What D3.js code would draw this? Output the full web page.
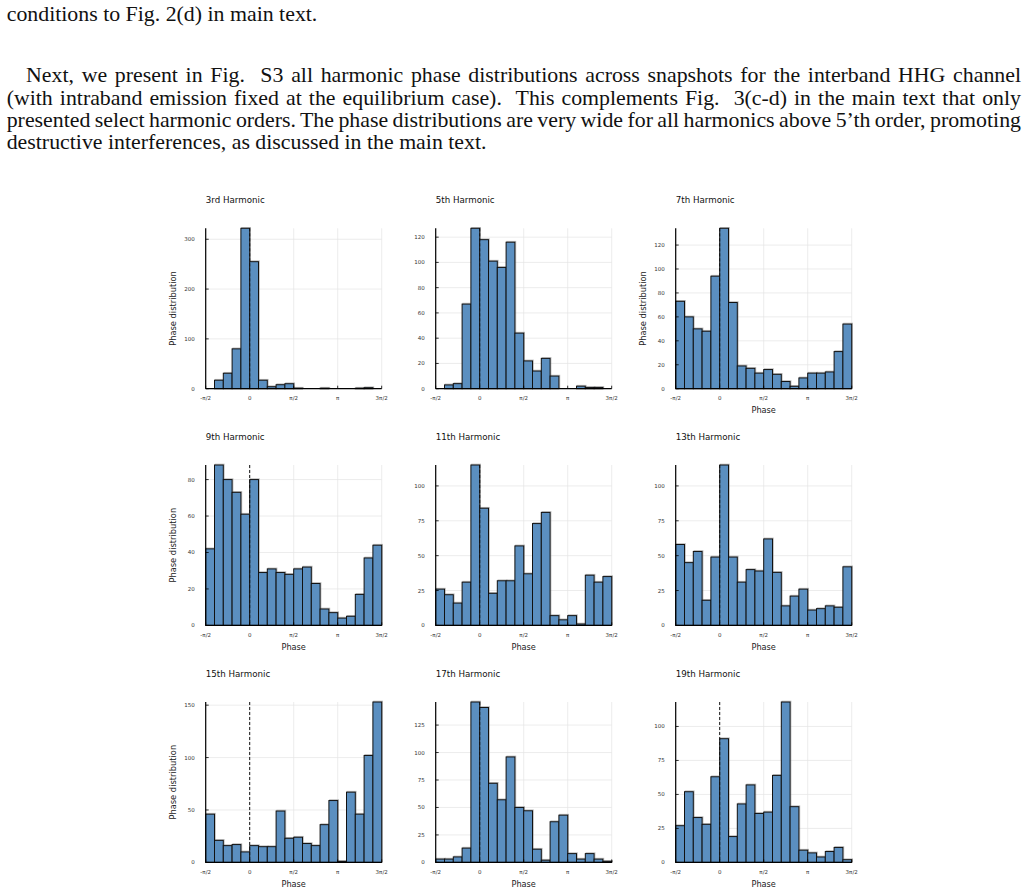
<!DOCTYPE html>
<html>
<head>
<meta charset="utf-8">
<script src="https://cdn.jsdelivr.net/npm/d3@7/dist/d3.min.js"></script>
<style>
  body { margin: 0; background: #fff; }
  svg { display: block; }
</style>
</head>
<body>
<div id="page"></div>
<script>
// Paragraph text above the figure
const paragraphLines = [
  "conditions to Fig. 2(d) in main text.",
  "Next, we present in Fig.  S3 all harmonic phase distributions across snapshots for the interband HHG channel",
  "(with intraband emission fixed at the equilibrium case).  This complements Fig.  3(c-d) in the main text that only",
  "presented select harmonic orders. The phase distributions are very wide for all harmonics above 5\u2019th order, promoting",
  "destructive interferences, as discussed in the main text.",
];

// Histogram counts, 20 bins of width π/10 from -π/2 to 3π/2
const titles = [
  "3rd Harmonic", "5th Harmonic", "7th Harmonic",
  "9th Harmonic", "11th Harmonic", "13th Harmonic",
  "15th Harmonic", "17th Harmonic", "19th Harmonic",
];
const counts3 = [0, 17, 31, 80, 322, 255, 17, 4, 8, 10, 1, 0, 0, 1, 0, 0, 0, 1, 2, 0];
const counts5 = [0, 3, 4, 67, 127, 118, 101, 96, 116, 44, 22, 14, 24, 10, 0, 0, 2, 1, 1, 0];
const counts7 = [73, 60, 50, 48, 94, 134, 72, 19, 17, 13, 16, 12, 6, 2, 9, 13, 13, 14, 31, 54];
const counts9 = [42, 88, 80, 73, 61, 80, 29, 31, 29, 28, 31, 32, 23, 9, 7, 4, 5, 17, 37, 44];
const counts11 = [26, 22, 16, 31, 115, 84, 23, 32, 32, 57, 37, 73, 81, 7, 4, 7, 1, 36, 31, 35];
const counts13 = [58, 45, 53, 18, 49, 115, 49, 31, 40, 39, 62, 38, 14, 21, 26, 11, 12, 14, 13, 42];
const counts15 = [46, 21, 16, 17, 10, 16, 15, 15, 49, 23, 24, 18, 16, 36, 59, 1, 67, 46, 102, 153];
const counts17 = [3, 3, 5, 13, 146, 141, 72, 57, 96, 50, 47, 12, 2, 37, 43, 8, 3, 8, 3, 1];
const counts19 = [27, 52, 33, 28, 63, 91, 19, 43, 57, 36, 37, 64, 118, 41, 9, 7, 4, 8, 11, 2];

const yTicks3 = [0, 100, 200, 300];
const yTicks5 = [0, 20, 40, 60, 80, 100, 120];
const yTicks7 = [0, 20, 40, 60, 80, 100, 120];
const yTicks9 = [0, 20, 40, 60, 80];
const yTicks11 = [0, 25, 50, 75, 100];
const yTicks13 = [0, 25, 50, 75, 100];
const yTicks15 = [0, 50, 100, 150];
const yTicks17 = [0, 25, 50, 75, 100, 125];
const yTicks19 = [0, 25, 50, 75, 100];

const phaseTicks = [-Math.PI / 2, 0, Math.PI / 2, Math.PI, 3 * Math.PI / 2];
const phaseTickLabels = ["-\u03c0/2", "0", "\u03c0/2", "\u03c0", "3\u03c0/2"];

const allCounts = [counts3, counts5, counts7, counts9, counts11, counts13, counts15, counts17, counts19];
const allYTicks = [yTicks3, yTicks5, yTicks7, yTicks9, yTicks11, yTicks13, yTicks15, yTicks17, yTicks19];
const showYLabel = [true, false, true, true, false, false, true, false, false];
const showXLabel = [false, false, true, true, true, true, true, true, true];

const width = 1027;
const height = 894;
const sans = "'DejaVu Sans', sans-serif";
const serif = "'Liberation Serif', 'Times New Roman', serif";
const barColor = "#5b8fc0";

const svg = d3
  .select("#page")
  .append("svg")
  .attr("width", width)
  .attr("height", height)
  .style("background", "#fff");

// ---- paragraph ----
const textG = svg.append("g");
const lineBase = [20.7, 82.3, 104.5, 126.7, 149];
const lineLeft = [6.7, 26, 6.7, 6.7, 6.7];
const rightEdge = 1021;
const justified = [false, true, true, true, false];

// size the font so the last line matches its width in the page
const probe = textG.append("text").attr("font-family", serif).attr("font-size", 20).text(paragraphLines[4]);
const fontSize = (20 * 480) / probe.node().getComputedTextLength();
probe.remove();

paragraphLines.forEach((line, i) => {
  const t = textG
    .append("text")
    .attr("x", lineLeft[i])
    .attr("y", lineBase[i])
    .attr("font-family", serif)
    .attr("font-size", fontSize)
    .attr("fill", "#111")
    .style("white-space", "pre")
    .text(line);
  if (justified[i]) {
    const natural = t.node().getComputedTextLength();
    const spaces = (line.match(/ /g) || []).length;
    t.style("word-spacing", (rightEdge - lineLeft[i] - natural) / spaces + "px");
  }
});

// ---- histogram grid ----
const colX = [205.7, 435.7, 675.7];
const rowTop = [228.3, 465, 702];
const plotW = 176;
const plotH = 160.4;
const binWidth = Math.PI / 10;

allCounts.forEach((counts, p) => {
  const x0 = colX[p % 3];
  const y0 = rowTop[Math.floor(p / 3)];
  const g = svg.append("g").attr("transform", `translate(${x0},${y0})`);

  const x = d3.scaleLinear().domain([-Math.PI / 2, 3 * Math.PI / 2]).range([0, plotW]);
  const y = d3.scaleLinear().domain([0, d3.max(counts)]).range([plotH, 0]);

  const bins = counts.map((c, i) => ({
    x0: -Math.PI / 2 + i * binWidth,
    x1: -Math.PI / 2 + (i + 1) * binWidth,
    count: c,
  }));

  // grid
  g.append("g")
    .selectAll("line")
    .data(phaseTicks)
    .join("line")
    .attr("x1", (d) => x(d))
    .attr("x2", (d) => x(d))
    .attr("y1", 0)
    .attr("y2", plotH)
    .attr("stroke", "#e4e4e4")
    .attr("stroke-width", 0.7);
  g.append("g")
    .selectAll("line")
    .data(allYTicks[p])
    .join("line")
    .attr("x1", 0)
    .attr("x2", plotW)
    .attr("y1", (d) => y(d))
    .attr("y2", (d) => y(d))
    .attr("stroke", "#e4e4e4")
    .attr("stroke-width", 0.7);

  const shown = bins.filter((d) => d.count > 0);

  // faint shadow edge seen around the bars
  g.append("g")
    .selectAll("rect")
    .data(shown)
    .join("rect")
    .attr("x", (d) => x(d.x0) + 0.8)
    .attr("y", (d) => y(d.count) - 0.8)
    .attr("width", (d) => x(d.x1) - x(d.x0))
    .attr("height", (d) => plotH - y(d.count))
    .attr("fill", "none")
    .attr("stroke", "#8c8c8c")
    .attr("stroke-opacity", 0.6)
    .attr("stroke-width", 1);

  g.append("g")
    .selectAll("rect")
    .data(shown)
    .join("rect")
    .attr("x", (d) => x(d.x0))
    .attr("y", (d) => y(d.count))
    .attr("width", (d) => x(d.x1) - x(d.x0))
    .attr("height", (d) => plotH - y(d.count))
    .attr("fill", barColor)
    .attr("stroke", "#111")
    .attr("stroke-width", 1);

  // dashed marker at zero phase
  g.append("line")
    .attr("x1", x(0))
    .attr("x2", x(0))
    .attr("y1", 0)
    .attr("y2", plotH)
    .attr("stroke", "#111")
    .attr("stroke-width", 1)
    .attr("stroke-dasharray", "3,2");

  // axes
  g.append("line").attr("x1", 0).attr("x2", 0).attr("y1", 0).attr("y2", plotH).attr("stroke", "#000").attr("stroke-width", 1.2);
  g.append("line").attr("x1", 0).attr("x2", plotW).attr("y1", plotH).attr("y2", plotH).attr("stroke", "#000").attr("stroke-width", 1.2);

  // y ticks
  const yt = g.append("g");
  yt.selectAll("line")
    .data(allYTicks[p])
    .join("line")
    .attr("x1", 0)
    .attr("x2", 3)
    .attr("y1", (d) => y(d))
    .attr("y2", (d) => y(d))
    .attr("stroke", "#000")
    .attr("stroke-width", 0.8);
  yt.selectAll("text")
    .data(allYTicks[p])
    .join("text")
    .attr("x", -11)
    .attr("y", (d) => y(d) + 2)
    .attr("text-anchor", "end")
    .attr("font-family", sans)
    .attr("font-size", 5.5)
    .attr("fill", "#333")
    .text((d) => d);

  // x ticks
  const xt = g.append("g");
  xt.selectAll("line")
    .data(phaseTicks)
    .join("line")
    .attr("x1", (d) => x(d))
    .attr("x2", (d) => x(d))
    .attr("y1", plotH)
    .attr("y2", plotH - 3)
    .attr("stroke", "#000")
    .attr("stroke-width", 0.8);
  xt.selectAll("text")
    .data(phaseTicks)
    .join("text")
    .attr("x", (d) => x(d))
    .attr("y", plotH + 11.5)
    .attr("text-anchor", "middle")
    .attr("font-family", sans)
    .attr("font-size", 5.5)
    .attr("fill", "#333")
    .text((d, i) => phaseTickLabels[i]);

  // title
  g.append("text")
    .attr("x", 0)
    .attr("y", -25.3)
    .attr("font-family", sans)
    .attr("font-size", 8.7)
    .attr("fill", "#111")
    .text(titles[p]);

  if (showYLabel[p]) {
    g.append("text")
      .attr("transform", `translate(${-33},${plotH / 2}) rotate(-90)`)
      .attr("text-anchor", "middle")
      .attr("dy", "0.35em")
      .attr("font-family", sans)
      .attr("font-size", 8.3)
      .attr("fill", "#222")
      .text("Phase distribution");
  }
  if (showXLabel[p]) {
    g.append("text")
      .attr("x", plotW / 2)
      .attr("y", plotH + 24.5)
      .attr("text-anchor", "middle")
      .attr("font-family", sans)
      .attr("font-size", 8.2)
      .attr("fill", "#222")
      .text("Phase");
  }
});
</script>
</body>
</html>
